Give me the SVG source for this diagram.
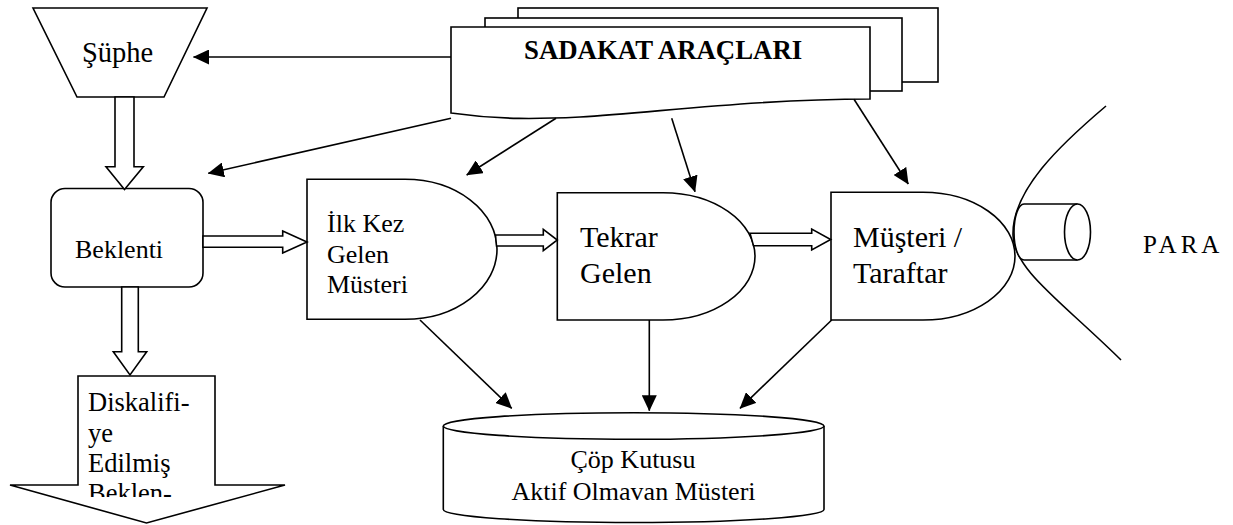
<svg xmlns="http://www.w3.org/2000/svg" width="1233" height="525" viewBox="0 0 1233 525">
<style>
.s{fill:#fff;stroke:#000;stroke-width:1.6;stroke-linejoin:miter}
.n{fill:none;stroke:#000;stroke-width:1.6}
.t{font-family:"Liberation Serif","Times New Roman",serif;fill:#000}
.ln{fill:none;stroke:#000;stroke-width:1.6;marker-end:url(#ah)}
</style>
<defs>
<marker id="ah" viewBox="0 0 16 15" refX="15.5" refY="7.5" markerWidth="16" markerHeight="15" markerUnits="userSpaceOnUse" orient="auto">
<path d="M0,0 L16,7.5 L0,15 Z" fill="#000"/>
</marker>
<clipPath id="dclip"><rect x="78" y="376" width="137" height="121"/></clipPath>
</defs>
<rect width="1233" height="525" fill="#fff"/>

<g id="supheNode">
<polygon class="s" points="33,8 207,8 164,97 77,97"/>
<text class="t" x="82" y="62" font-size="28.5">Şüphe</text>
</g>

<g id="sadakatNode">
<rect class="s" x="518" y="8" width="420" height="74"/>
<rect class="s" x="485" y="18" width="417" height="73"/>
<path class="s" d="M451 27 H870 V99 C760 99,660 112,580 117 C540 119,500 120,451 113 Z"/>
<text class="t" x="524" y="59" font-size="26.8" font-weight="bold">SADAKAT ARAÇLARI</text>
</g>

<g id="beklentiNode">
<rect class="s" x="51" y="188.5" width="152" height="98.5" rx="14" ry="14"/>
<text class="t" x="75" y="257.5" font-size="26">Beklenti</text>
</g>

<g id="diskalifiyeNode">
<polygon class="s" points="78,376 215,376 215,485 285,485 146.5,523 10,485 78,485"/>
<g clip-path="url(#dclip)">
<text class="t" font-size="26.5"><tspan x="88" y="410.5">Diskalifi-</tspan><tspan x="88" y="441.5">ye</tspan><tspan x="88" y="471.5">Edilmiş</tspan><tspan x="88" y="501.5">Beklen-</tspan></text>
</g>
</g>

<g id="ilkKezNode">
<path class="s" d="M307 179.3 H405 A92 70 0 0 1 405 319.3 H307 Z"/>
<text class="t" font-size="26"><tspan x="327" y="231.5">İlk Kez</tspan><tspan x="327" y="262.5">Gelen</tspan><tspan x="327" y="292.5">Müsteri</tspan></text>
</g>

<g id="tekrarNode">
<path class="s" d="M557.3 192.7 H663 A92 63.65 0 0 1 663 320 H557.3 Z"/>
<text class="t" font-size="30"><tspan x="580" y="247">Tekrar</tspan><tspan x="580" y="283">Gelen</tspan></text>
</g>

<g id="musteriNode">
<path class="s" d="M831 192.3 H923 A92 63.85 0 0 1 923 320 H831 Z"/>
<text class="t" font-size="30"><tspan x="853" y="246.5">Müşteri /</tspan><tspan x="853" y="283">Taraftar</tspan></text>
</g>

<g id="paraNode">
<path class="n" d="M1106 106 C1060 145,1012 190,1013 235 C1014 270,1060 300,1121 360"/>
<path class="s" d="M1077.5 204 H1024 A10 28 0 0 0 1024 260 H1077.5"/>
<ellipse class="s" cx="1077.5" cy="232" rx="13" ry="28"/>
<text class="t" x="1143" y="253" font-size="25" letter-spacing="4">PARA</text>
</g>

<g id="copNode">
<path class="s" d="M443.3 426 V509.5 A190.35 13 0 0 0 824 509.5 V426"/>
<ellipse class="s" cx="633.65" cy="426" rx="190.35" ry="13.3"/>
<text class="t" font-size="26" text-anchor="middle"><tspan x="633" y="468">Çöp Kutusu</tspan><tspan x="633.5" y="500">Aktif Olmavan Müsteri</tspan></text>
</g>

<g id="connectors">
<polygon class="s" points="115,97 134,97 134,166.7 143.3,166.7 124.5,189.5 106,166.7 115,166.7"/>
<polygon class="s" points="121.7,287 138.3,287 138.3,351.7 146.7,351.7 130,375 113.3,351.7 121.7,351.7"/>
<polygon class="s" points="203,236 282.7,236 282.7,231 307,242 282.7,253 282.7,247.3 203,247.3"/>
<polygon class="s" points="495.5,235 543.3,235 543.3,229.3 557.3,240 543.3,250.7 543.3,246 496.5,246"/>
<polygon class="s" points="750,233.3 811.7,233.3 811.7,229 830.7,239.5 811.7,250 811.7,245.7 753.5,245.7"/>
<line class="ln" x1="451" y1="57" x2="193.5" y2="57"/>
<line class="ln" x1="451" y1="118.3" x2="208.3" y2="173.3"/>
<line class="ln" x1="556" y1="118.3" x2="466.7" y2="175"/>
<line class="ln" x1="671.7" y1="118.3" x2="695" y2="191.7"/>
<line class="ln" x1="854" y1="99.3" x2="908.3" y2="184"/>
<line class="ln" x1="420" y1="320" x2="511.7" y2="408.3"/>
<line class="ln" x1="649.3" y1="320" x2="649.3" y2="410.7"/>
<line class="ln" x1="831.7" y1="320" x2="740" y2="408.3"/>
</g>
</svg>
